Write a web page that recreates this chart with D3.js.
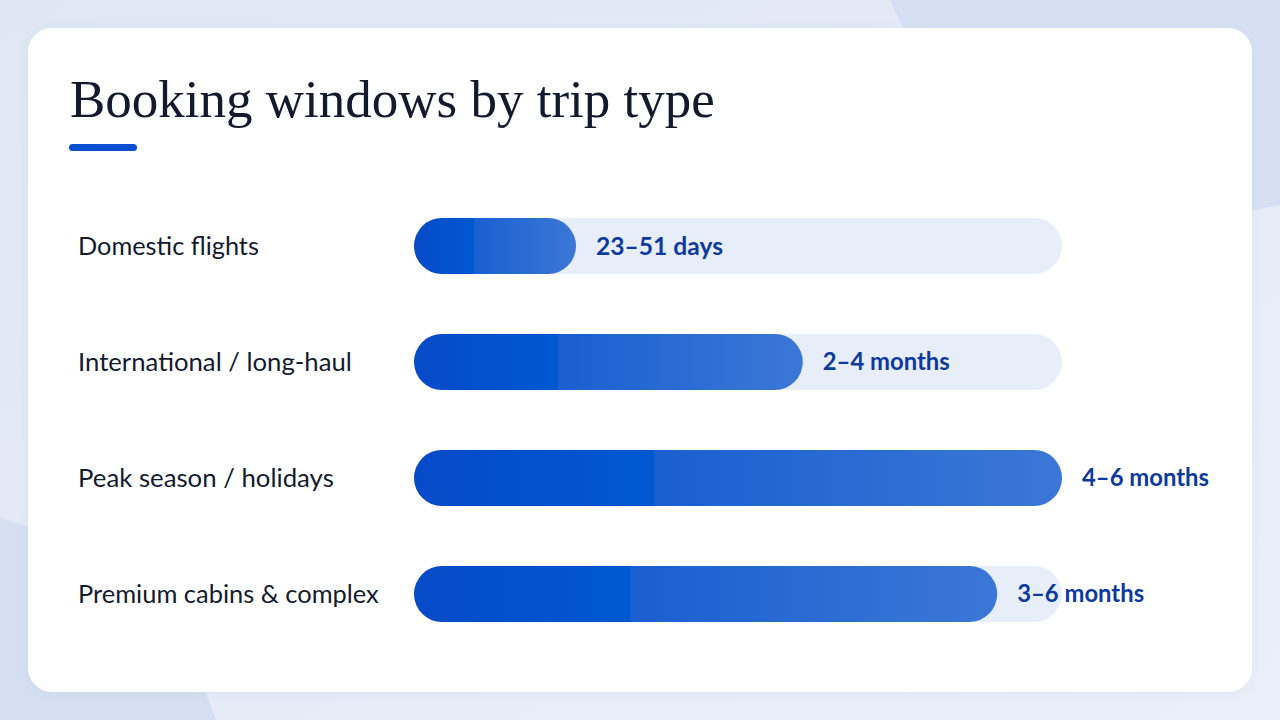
<!DOCTYPE html>
<html><head><meta charset="utf-8">
<script src="https://cdn.jsdelivr.net/npm/d3@7"></script>
<style>html,body{margin:0;padding:0;background:#e5ecf7;overflow:hidden}</style>
</head><body><svg id="c" width="1280" height="720"></svg>
<script>
const categories = ["Domestic flights","International / long-haul","Peak season / holidays","Premium cabins & complex"];
const values = [25, 60, 100, 90];
const valueLabels = ["23–51 days","2–4 months","4–6 months","3–6 months"];
const title = "Booking windows by trip type";

const svg = d3.select("#c");
const defs = svg.append("defs");
const g = defs.append("linearGradient").attr("id","barGrad").attr("x1","0").attr("x2","1").attr("y1","0").attr("y2","0");
[[0,"#064ac8"],[0.37,"#0059d1"],[0.37,"#1a5fd0"],[1,"#3b77d6"]].forEach(([o,c])=>g.append("stop").attr("offset",o).attr("stop-color",c));
const bg = defs.append("linearGradient").attr("id","bgGrad").attr("x1","0").attr("x2","1").attr("y1","0").attr("y2","1");
[[0,"#dfe7f5"],[1,"#eaf0f9"]].forEach(([o,c])=>bg.append("stop").attr("offset",o).attr("stop-color",c));
const f = defs.append("filter").attr("id","sh").attr("x","-5%").attr("y","-5%").attr("width","110%").attr("height","110%");
f.append("feDropShadow").attr("dx",0).attr("dy",2).attr("stdDeviation",4).attr("flood-color","#5070a0").attr("flood-opacity",0.08);

// background
svg.append("rect").attr("width",1280).attr("height",720).attr("fill","url(#bgGrad)");
const poly = d3.line();
svg.append("path").attr("d",poly([[890,0],[1280,0],[1280,205],[1100,240],[960,150]])+"Z").attr("fill","#d5e1f2");
svg.append("path").attr("d",poly([[0,518],[100,550],[190,650],[216,720],[0,720]])+"Z").attr("fill","#d4e0f2");

// card
svg.append("rect").attr("x",28).attr("y",28).attr("width",1224).attr("height",664).attr("rx",24).attr("fill","#ffffff").attr("filter","url(#sh)");

// title
const t = svg.append("text").attr("x",70).attr("y",117).text(title)
  .attr("font-family","'Liberation Serif','DejaVu Serif',serif").attr("font-size",50).attr("fill","#141a2e");
const tw = t.node().getComputedTextLength();
t.attr("font-size",50*645/tw);
svg.append("rect").attr("x",69).attr("y",144).attr("width",68).attr("height",7).attr("rx",3.5).attr("fill","#0a4fcf");

// chart
const x = d3.scaleLinear().domain([0,100]).range([414,1062]);
const y = d3.scaleBand().domain(categories).range([188,652]).paddingInner(0.517).paddingOuter(0.2585);
const bh = y.bandwidth();

const rows = svg.append("g").selectAll("g").data(categories).join("g")
  .attr("transform",d=>`translate(0,${y(d)})`);
rows.append("rect").attr("x",x(0)).attr("y",0).attr("width",x(100)-x(0)).attr("height",bh).attr("rx",bh/2).attr("fill","#e8eef9");
rows.append("rect").attr("x",x(0)).attr("y",0).attr("width",(d,i)=>x(values[i])-x(0)).attr("height",bh).attr("rx",bh/2).attr("fill","url(#barGrad)");

const labelW = [181,274,256,301];
rows.append("text").attr("x",78).attr("y",bh/2).attr("dy","0.35em").text(d=>d)
  .attr("font-family","Lato,'Noto Sans',sans-serif").attr("font-size",23).attr("fill","#151b2e")
  .each(function(d,i){const w=this.getComputedTextLength(); d3.select(this).attr("font-size",23*labelW[i]/w);});
rows.append("text").attr("x",(d,i)=>x(values[i])+20).attr("y",bh/2).attr("dy","0.35em").text((d,i)=>valueLabels[i])
  .attr("font-family","Lato,'Noto Sans',sans-serif").attr("font-weight",700).attr("font-size",23).attr("fill","#0d3a9d")
  .each(function(d,i){const w=this.getComputedTextLength(); d3.select(this).attr("font-size",23*127/w);});
</script></body></html>
